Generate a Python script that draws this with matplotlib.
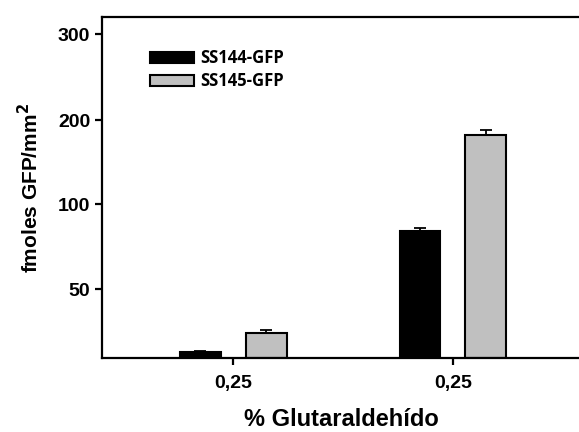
import numpy as np
import matplotlib
matplotlib.use("Agg")
import matplotlib.pyplot as plt

# data
groups = ["0,25", "0,25"]
series = ["SS144-GFP", "SS145-GFP"]
ss144 = [4, 84]
ss144_err = [1.2, 1.8]
ss145 = [18, 182]
ss145_err = [2.0, 6.0]
colors = ["black", "#c0c0c0"]

# the y axis of the original is not linear: ticks 50,100,200,300 are evenly spaced
knot_vals = np.array([-100, 0, 50, 100, 200, 300, 1000])
knot_pos = np.array([-138, 0, 69, 154, 238, 324, 926])


def fwd(y):
    return np.interp(y, knot_vals, knot_pos)


def inv(p):
    return np.interp(p, knot_pos, knot_vals)


plt.rcParams["font.family"] = ["Liberation Sans", "DejaVu Sans"]
plt.rcParams["font.weight"] = "bold"

fig = plt.figure(figsize=(5.79, 4.32), dpi=100)
ax = fig.add_axes([102 / 579, 74 / 432, 1 - 102 / 579 + 0.002, 341 / 432])
ax.set_yscale("function", functions=(fwd, inv))

x = np.arange(len(groups))
w = 0.185
off = 0.15
vals = [ss144, ss145]
errs = [ss144_err, ss145_err]
for i, (s, v, e) in enumerate(zip(series, vals, errs)):
    pos = x + (i * 2 - 1) * off
    ax.bar(pos, v, w, color=colors[i], edgecolor="black", linewidth=1.5, label=s, zorder=2)
    ax.errorbar(pos, v, yerr=[np.zeros(len(e)), e], fmt="none", ecolor="black",
                elinewidth=1.3, capsize=4, capthick=1.3, zorder=3)

ax.set_xlim(-0.598, 1.58)
ax.set_ylim(0, 320)
ax.set_xticks(x)
ax.set_xticklabels(groups)
ax.set_yticks([50, 100, 200, 300])
ax.set_yticklabels(["50", "100", "200", "300"])

for sp in ["left", "bottom", "top"]:
    ax.spines[sp].set_linewidth(1.6)
ax.spines["right"].set_visible(False)
ax.tick_params(axis="both", direction="out", length=5, width=1.6, labelsize=14)
ax.tick_params(axis="y", pad=3.5)
ax.tick_params(axis="x", pad=7)
for lab in ax.get_xticklabels() + ax.get_yticklabels():
    lab.set_fontweight("bold")

ax.set_xlabel("% Glutaraldehído", fontsize=17, fontweight="bold", labelpad=12)
ax.set_ylabel("fmoles GFP/mm$^\\mathbf{2}$", fontsize=15, fontweight="bold", labelpad=11)

leg = ax.legend(loc="upper left", bbox_to_anchor=(0.1, 0.905), frameon=False,
                borderpad=0, borderaxespad=0,
                handlelength=2.65, handleheight=0.6, handletextpad=0.4, labelspacing=0.3,
                prop={"family": "Open Sans", "weight": "bold", "size": 12})

fig.savefig("out.png", dpi=100)
